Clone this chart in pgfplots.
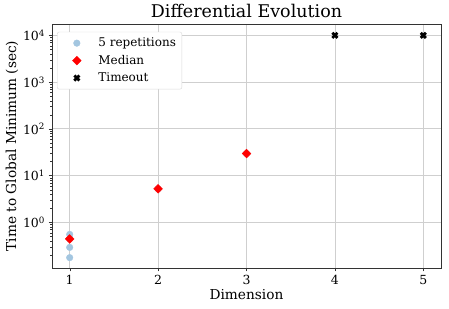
\documentclass[border=0pt]{standalone}
\usepackage{fontspec}
\setmainfont{DejaVu Serif}
\usepackage{pgfplots}
\pgfplotsset{compat=1.18}
\definecolor{repblue}{HTML}{A3C6E0}
\definecolor{gridgray}{HTML}{CFCFCF}
\pgfplotsset{mylegend/.style={legend image code/.code={\draw[draw=none, mark repeat=2,mark phase=2] plot coordinates {(0cm,0cm)(0.55cm,0cm)(1.1cm,0cm)};}}}
\begin{document}
\begin{tikzpicture}
\useasboundingbox (0,0) rectangle (449bp,309bp);
\begin{axis}[
  at={(52bp,41bp)}, anchor=south west,
  scale only axis, width=389bp, height=244bp,
  ymode=log,
  xmin=0.8, xmax=5.2,
  ymin=0.105, ymax=17500,
  xtick={1,2,3,4,5}, xticklabels={1,2,3,4,5},
  ytick={1,10,100,1000,10000},
  minor ytick={0.2,0.3,0.4,0.5,0.6,0.7,0.8,0.9,2,3,4,5,6,7,8,9,20,30,40,50,60,70,80,90,200,300,400,500,600,700,800,900,2000,3000,4000,5000,6000,7000,8000,9000},
  yticklabels={10\textsuperscript{0},10\textsuperscript{1},10\textsuperscript{2},10\textsuperscript{3},10\textsuperscript{4}},
  tick pos=left, tick align=outside,
  grid=major, major grid style={gridgray, line width=0.8pt},
  axis line style={black!80, line width=0.8pt},
  tick style={black!80},
  major tick length=3.5bp, minor tick length=2bp,
  ticklabel style={font=\fontsize{12.5bp}{14bp}\selectfont},
  xlabel={Dimension}, ylabel={Time to Global Minimum (sec)},
  label style={font=\fontsize{13.7bp}{16bp}\selectfont},
  ylabel style={yshift=-2bp},
  xlabel style={yshift=2bp},
  title={Differential Evolution},
  title style={font=\fontsize{17.5bp}{20bp}\selectfont, yshift=-3bp},
  legend style={at={(0.013,0.968)}, anchor=north west, draw=black!15, rounded corners=2pt,
    font=\fontsize{12bp}{14bp}\selectfont, fill=white,
    row sep=3pt, inner sep=4pt,
    /tikz/every odd column/.append style={column sep=4bp}},
  legend cell align=left,
]
\addplot[draw=none, mylegend, mark=*, mark size=3.3bp, mark options={draw=repblue, fill=repblue}]
  coordinates {(1,0.55) (1,0.45) (1,0.44) (1,0.29) (1,0.175) (2,5.2) (3,29.5)};
\addlegendentry{5 repetitions}
\addplot[draw=none, mylegend, mark=square*, mark size=3.1bp, mark options={fill=red, draw=red, rotate=45}]
  coordinates {(1,0.44) (2,5.2) (3,29.5)};
\addlegendentry{Median}
\addplot[draw=none, mylegend, mark=x, mark size=3.6bp, mark options={draw=black, line width=2.8pt}]
  coordinates {(4,10000) (5,10000)};
\addlegendentry{Timeout}
\end{axis}
\end{tikzpicture}
\end{document}
